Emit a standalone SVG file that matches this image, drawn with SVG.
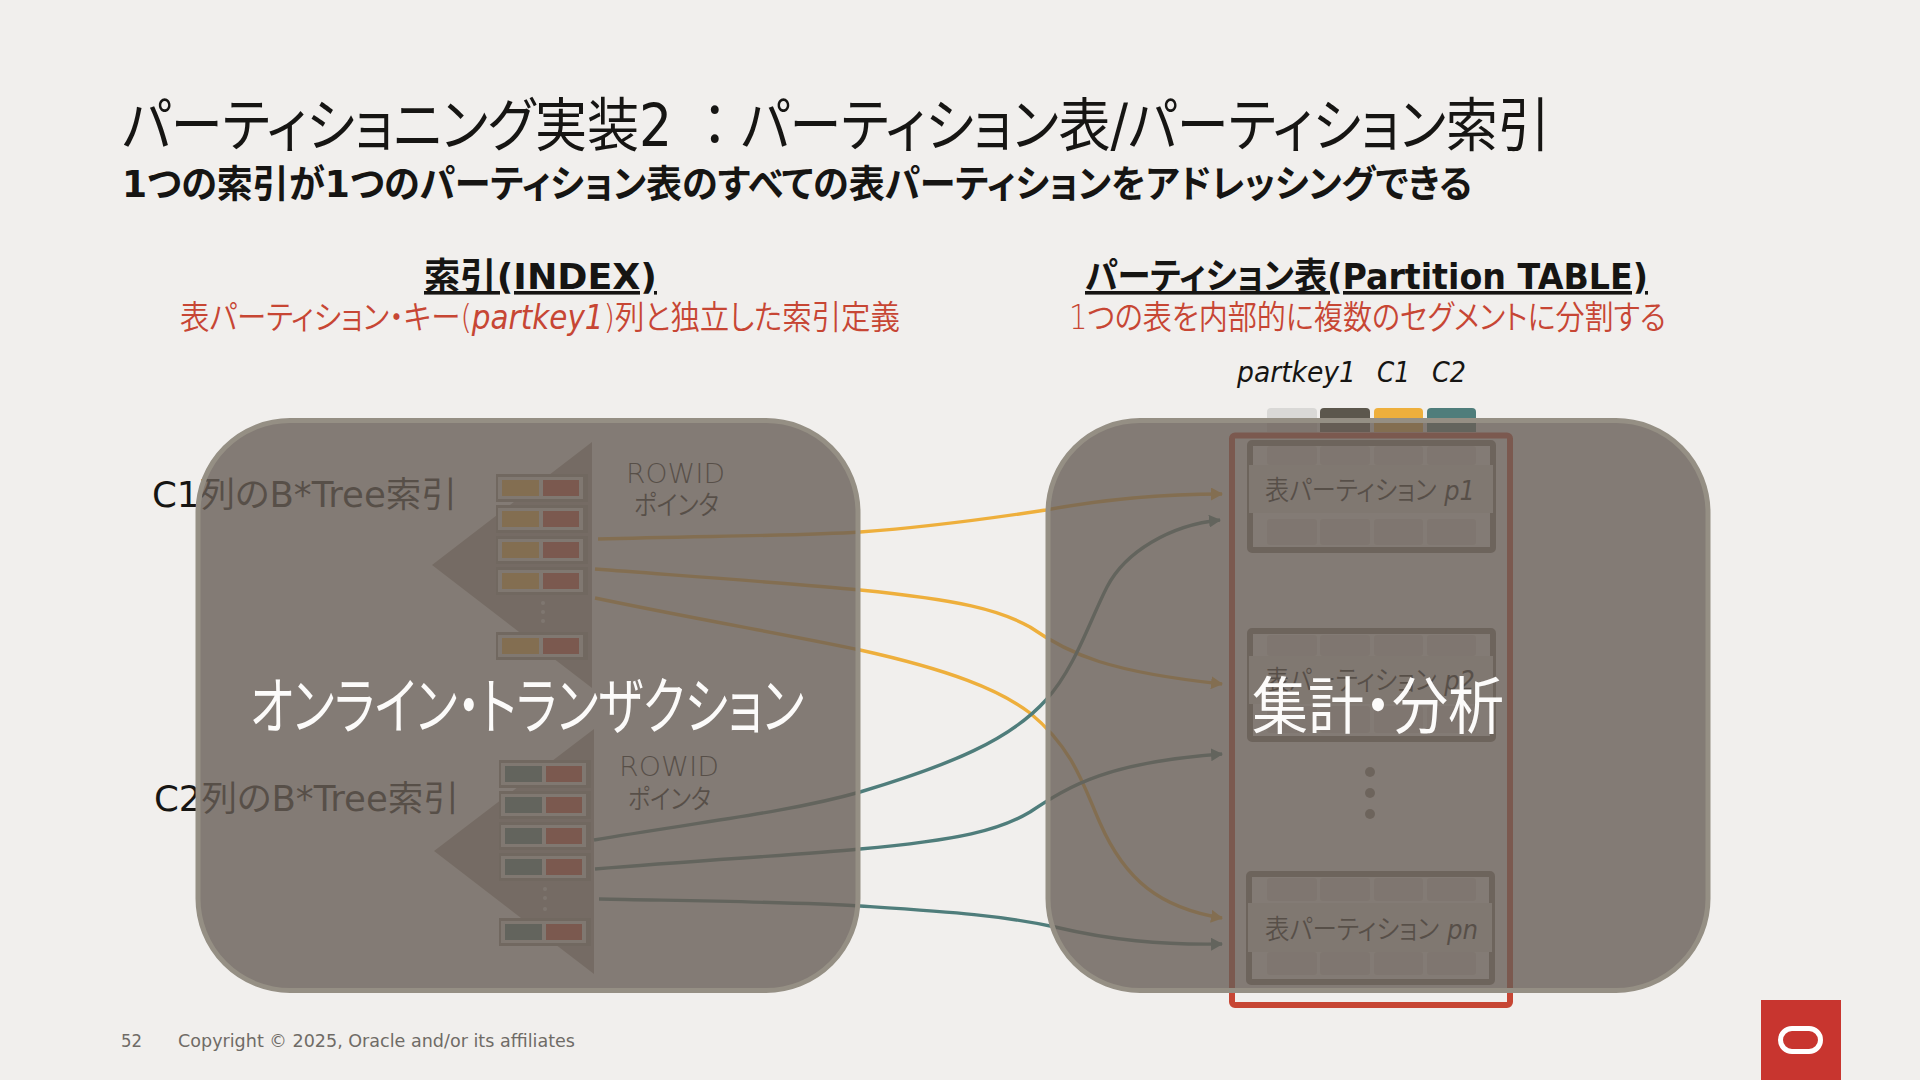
<svg xmlns="http://www.w3.org/2000/svg" width="1920" height="1080" viewBox="0 0 1920 1080">
<style>
text{font-family:"DejaVu Sans","Noto Sans CJK JP",sans-serif;fill:#161513;font-feature-settings:"palt"}
.t{font-size:58px;font-weight:400}
.h{font-size:36px;font-weight:700}
.r{font-size:33px;fill:#C74634;font-weight:350}
.lab{font-size:35px;font-weight:400}
.pt{font-size:27px;font-weight:350}
.it{font-style:italic}
.w{font-size:62px;fill:#FCFBFA;font-weight:400}
.foot{font-size:18px;fill:#6F6B66}
.panel{fill:#685E56;fill-opacity:.8;stroke:#958F84;stroke-width:5}
.c{fill:none;stroke-width:3.4}
.or{stroke:#EEAF3C}.te{stroke:#4F7D7B}
.tri{fill:#A8A19A}
.cell{fill:#DBD8D4}
.box{fill:none;stroke:#847E76;stroke-width:6}
.strip{fill:#E2DFDB}
</style>
<defs>
<marker id="ao" markerUnits="userSpaceOnUse" markerWidth="12" markerHeight="13" refX="11" refY="6.5" orient="auto"><path d="M0 0L12 6.5L0 13Z" fill="#EEAF3C"/></marker>
<marker id="at" markerUnits="userSpaceOnUse" markerWidth="12" markerHeight="13" refX="11" refY="6.5" orient="auto"><path d="M0 0L12 6.5L0 13Z" fill="#4F7D7B"/></marker>
<g id="rowO"><rect x="496" y="-6" width="92" height="28" fill="#948F88"/><rect x="498" y="-3" width="85" height="22" fill="#E2DFDB"/><rect x="502" y="0" width="37" height="16" fill="#EEAF3C"/><rect x="543" y="0" width="36" height="16" fill="#C74634"/></g>
<g id="rowT"><rect x="499" y="-6" width="92" height="28" fill="#948F88"/><rect x="501" y="-3" width="85" height="22" fill="#E2DFDB"/><rect x="505" y="0" width="37" height="16" fill="#4F7D7B"/><rect x="546" y="0" width="36" height="16" fill="#C74634"/></g>
</defs>
<rect width="1920" height="1080" fill="#F1EFED"/>
<g id="title">
<text class="t" x="122" y="146" textLength="1428" lengthAdjust="spacingAndGlyphs">パーティショニング実装2 <tspan style="font-feature-settings:normal">：</tspan>パーティション表/パーティション索引</text>
<text class="h" style="font-size:38px" x="122" y="197" textLength="1350" lengthAdjust="spacingAndGlyphs">1つの索引が1つのパーティション表のすべての表パーティションをアドレッシングできる</text>
</g>
<g id="head-index">
<text class="h" x="424" y="289" textLength="233" lengthAdjust="spacingAndGlyphs" text-decoration="underline">索引(INDEX)</text>
<text class="r" x="180" y="329" textLength="720" lengthAdjust="spacingAndGlyphs">表パーティション・キー(<tspan class="it">partkey1</tspan>)列と独立した索引定義</text>
</g>
<g id="head-table">
<text class="h" x="1085" y="289" textLength="563" lengthAdjust="spacingAndGlyphs" text-decoration="underline">パーティション表(Partition TABLE)</text>
<text class="r" x="1069" y="329" textLength="597" lengthAdjust="spacingAndGlyphs">1つの表を内部的に複数のセグメントに分割する</text>
<text class="it" font-size="28" x="1237" y="382" textLength="119" lengthAdjust="spacingAndGlyphs">partkey1</text>
<text class="it" font-size="28" x="1377" y="382" textLength="33" lengthAdjust="spacingAndGlyphs">C1</text>
<text class="it" font-size="28" x="1432" y="382" textLength="34" lengthAdjust="spacingAndGlyphs">C2</text>
</g>
<g id="index-c1">
<path class="tri" d="M592 442L432 565L592 688Z"/>
<use href="#rowO" y="480"/><use href="#rowO" y="511"/><use href="#rowO" y="542"/><use href="#rowO" y="573"/><use href="#rowO" y="638"/>
<circle cx="543" cy="603" r="2" fill="#D9D8D6"/><circle cx="543" cy="612" r="2" fill="#D9D8D6"/><circle cx="543" cy="621" r="2" fill="#D9D8D6"/>
<text class="lab" x="152" y="507" textLength="305" lengthAdjust="spacingAndGlyphs">C1列のB*Tree索引</text>
<text class="pt" x="626" y="483" textLength="99" lengthAdjust="spacingAndGlyphs">ROWID</text>
<text class="pt" x="634" y="515" textLength="85" lengthAdjust="spacingAndGlyphs">ポインタ</text>
</g>
<g id="index-c2">
<path class="tri" d="M594 729L434 851L594 974Z"/>
<use href="#rowT" y="766"/><use href="#rowT" y="797"/><use href="#rowT" y="828"/><use href="#rowT" y="859"/><use href="#rowT" y="924"/>
<circle cx="545" cy="889" r="2" fill="#D9D8D6"/><circle cx="545" cy="898" r="2" fill="#D9D8D6"/><circle cx="545" cy="909" r="2" fill="#D9D8D6"/>
<text class="lab" x="154" y="811" textLength="305" lengthAdjust="spacingAndGlyphs">C2列のB*Tree索引</text>
<text class="pt" x="619" y="776" textLength="100" lengthAdjust="spacingAndGlyphs">ROWID</text>
<text class="pt" x="628" y="809" textLength="83" lengthAdjust="spacingAndGlyphs">ポインタ</text>
</g>
<g id="connectors">
<path class="c or" marker-end="url(#ao)" d="M598 539C700 536 800 536 860 532C930 527 1000 517 1046 510C1100 500 1160 494 1222 494"/>
<path class="c or" marker-end="url(#ao)" d="M595 569C700 577 800 584 860 590C960 600 1000 610 1030 627C1070 655 1110 672 1222 684"/>
<path class="c or" marker-end="url(#ao)" d="M595 598C700 620 790 635 860 650C950 670 1000 690 1030 713C1075 750 1085 790 1100 823C1125 880 1160 908 1222 918"/>
<path class="c te" marker-end="url(#at)" d="M594 840C700 822 790 812 860 792C950 765 1010 740 1046 700C1075 668 1090 620 1107 587C1125 552 1170 525 1220 520"/>
<path class="c te" marker-end="url(#at)" d="M595 869C700 860 800 855 860 849C960 840 1000 830 1030 812C1070 785 1110 762 1222 754"/>
<path class="c te" marker-end="url(#at)" d="M599 899C700 901 800 902 860 906C950 912 1000 915 1055 927C1110 940 1160 945 1222 944"/>
</g>
<g id="table-columns">
<path d="M1267 412a4 4 0 0 1 4-4h42a4 4 0 0 1 4 4v20h-50z" fill="#D9D8D6"/>
<path d="M1320 412a4 4 0 0 1 4-4h42a4 4 0 0 1 4 4v20h-50z" fill="#5C574D"/>
<path d="M1374 412a4 4 0 0 1 4-4h41a4 4 0 0 1 4 4v20h-49z" fill="#EEAF3C"/>
<path d="M1427 412a4 4 0 0 1 4-4h41a4 4 0 0 1 4 4v20h-49z" fill="#4F7D7B"/>
</g>
<g id="partition-p1">
<rect class="box" x="1250" y="443" width="243" height="107" rx="2"/>
<rect class="cell" x="1267" y="446" width="50" height="19" rx="3"/><rect class="cell" x="1320" y="446" width="50" height="19" rx="3"/><rect class="cell" x="1374" y="446" width="49" height="19" rx="3"/><rect class="cell" x="1427" y="446" width="49" height="19" rx="3"/>
<rect class="strip" x="1249" y="465" width="244" height="48"/>
<rect class="cell" x="1267" y="519" width="50" height="26" rx="3"/><rect class="cell" x="1320" y="519" width="50" height="26" rx="3"/><rect class="cell" x="1374" y="519" width="49" height="26" rx="3"/><rect class="cell" x="1427" y="519" width="49" height="26" rx="3"/>
<text class="pt" x="1265" y="500" textLength="210" lengthAdjust="spacingAndGlyphs">表パーティション <tspan class="it">p1</tspan></text>
</g>
<g id="partition-p2">
<rect class="box" x="1250" y="631" width="243" height="108" rx="2"/>
<rect class="cell" x="1267" y="635" width="50" height="21" rx="3"/><rect class="cell" x="1320" y="635" width="50" height="21" rx="3"/><rect class="cell" x="1374" y="635" width="49" height="21" rx="3"/><rect class="cell" x="1427" y="635" width="49" height="21" rx="3"/>
<rect class="strip" x="1249" y="656" width="244" height="48"/>
<rect class="cell" x="1267" y="706" width="50" height="27" rx="3"/><rect class="cell" x="1320" y="706" width="50" height="27" rx="3"/><rect class="cell" x="1374" y="706" width="49" height="27" rx="3"/><rect class="cell" x="1427" y="706" width="49" height="27" rx="3"/>
<text class="pt" x="1265" y="690" textLength="210" lengthAdjust="spacingAndGlyphs">表パーティション <tspan class="it">p2</tspan></text>
</g>
<g id="partition-dots" fill="#847E76"><circle cx="1370" cy="772" r="5"/><circle cx="1370" cy="793" r="5"/><circle cx="1370" cy="814" r="5"/></g>
<g id="partition-pn">
<rect class="box" x="1249" y="874" width="243" height="108" rx="2"/>
<rect class="cell" x="1267" y="878" width="50" height="23" rx="3"/><rect class="cell" x="1320" y="878" width="50" height="23" rx="3"/><rect class="cell" x="1374" y="878" width="49" height="23" rx="3"/><rect class="cell" x="1427" y="878" width="49" height="23" rx="3"/>
<rect class="strip" x="1248" y="903" width="244" height="49"/>
<rect class="cell" x="1267" y="952" width="50" height="23" rx="3"/><rect class="cell" x="1320" y="952" width="50" height="23" rx="3"/><rect class="cell" x="1374" y="952" width="49" height="23" rx="3"/><rect class="cell" x="1427" y="952" width="49" height="23" rx="3"/>
<text class="pt" x="1265" y="939" textLength="213" lengthAdjust="spacingAndGlyphs">表パーティション <tspan class="it">pn</tspan></text>
</g>
<g id="table-frame"><rect x="1232" y="435.500" width="278" height="569.500" rx="3" fill="none" stroke="#C74634" stroke-width="6"/></g>
<g id="overlay-left"><rect class="panel" x="198" y="420.500" width="660" height="570" rx="92"/>
<text class="w" x="250" y="729" textLength="554" lengthAdjust="spacingAndGlyphs">オンライン・トランザクション</text></g>
<g id="overlay-right"><rect class="panel" x="1048" y="420.500" width="660" height="570" rx="92"/>
<text class="w" x="1252" y="729" textLength="252" lengthAdjust="spacingAndGlyphs">集計・分析</text></g>
<g id="footer">
<text class="foot" x="121" y="1047" textLength="21" lengthAdjust="spacingAndGlyphs">52</text>
<text class="foot" x="178" y="1047" textLength="397" lengthAdjust="spacingAndGlyphs">Copyright © 2025, Oracle and/or its affiliates</text>
<rect x="1761" y="1000" width="80" height="80" fill="#C8352F"/>
<rect x="1780.500" y="1028.500" width="40" height="23" rx="11.500" fill="none" stroke="#FFFFFF" stroke-width="5"/>
</g>
</svg>
